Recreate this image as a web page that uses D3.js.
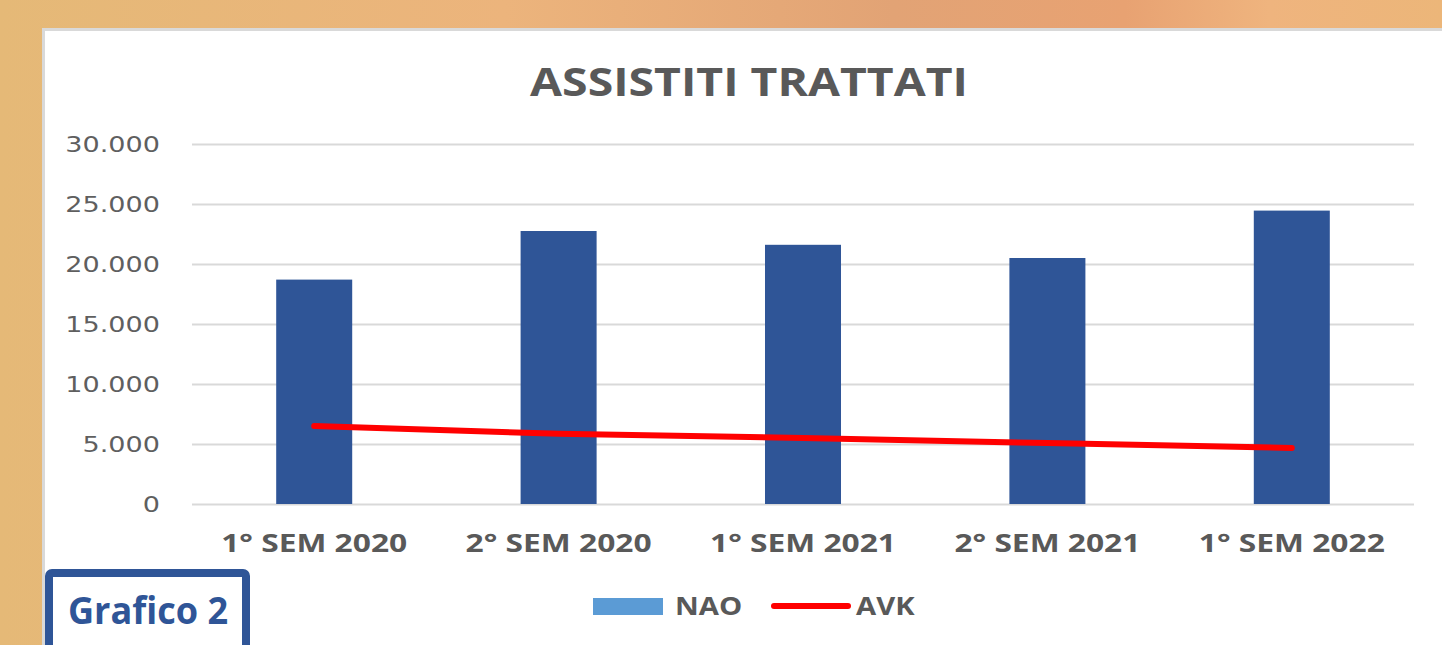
<!DOCTYPE html>
<html>
<head>
<meta charset="utf-8">
<script src="https://cdn.jsdelivr.net/npm/d3@7"></script>
<style>
  html, body { margin: 0; padding: 0; overflow: hidden; }
  svg { display: block; }
</style>
</head>
<body>
<script>
// General constants
const WIDTH = 1442;
const HEIGHT = 645;

// Chart data
const categories = ["1° SEM 2020", "2° SEM 2020", "1° SEM 2021", "2° SEM 2021", "1° SEM 2022"];
const naoValues = [18700, 22750, 21600, 20500, 24450];
const avkValues = [6500, 5850, 5500, 5080, 4670];
const yTicks = [0, 5000, 10000, 15000, 20000, 25000, 30000];
const seriesNames = ["NAO", "AVK"];

const BAR_COLOR = "#2f5597";
const NAO_LEGEND = "#5b9bd5";
const AVK_COLOR = "#ff0000";
const TEXT_COLOR = "#595959";
const GRID_COLOR = "#d9d9d9";
const BOLD_FONT = "'Open Sans', 'Liberation Sans', sans-serif";
const TICK_FONT = "'DejaVu Sans', Verdana, sans-serif";

const itLocale = d3.formatLocale({decimal: ",", thousands: ".", grouping: [3], currency: ["€", ""]});
const fmt = itLocale.format(",");

const svg = d3.select("body")
    .append("svg")
    .attr("width", WIDTH)
    .attr("height", HEIGHT);

/**
 * Orange frame behind the white chart panel
 */
const defs = svg.append("defs");
const grad = defs.append("linearGradient")
    .attr("id", "frame")
    .attr("x1", "0%").attr("x2", "100%")
    .attr("y1", "0%").attr("y2", "0%");
[["0%", "#e5b977"], ["35%", "#ecb47c"], ["62%", "#e2a375"], ["78%", "#e8a272"],
 ["88%", "#efb47e"], ["100%", "#ecb679"]].forEach(s => {
    grad.append("stop").attr("offset", s[0]).attr("stop-color", s[1]);
});

svg.append("rect")
    .attr("width", WIDTH).attr("height", HEIGHT)
    .attr("fill", "url(#frame)");

svg.append("rect")
    .attr("x", 43.5).attr("y", 29.5)
    .attr("width", WIDTH).attr("height", HEIGHT)
    .attr("fill", "#ffffff")
    .attr("stroke", "#d9d9d9")
    .attr("stroke-width", 3);

// Text in the original is stretched horizontally, so scale it a bit
function stretchedText(sel, x, y, sx) {
    return sel.append("text")
        .attr("transform", `translate(${x},${y}) scale(${sx},1)`);
}

/**
 * Scales
 */
const x = d3.scaleBand()
    .domain(categories)
    .range([192, 1414])
    .paddingInner(0.689)
    .paddingOuter(0.3445);

const y = d3.scaleLinear()
    .domain([0, 30000])
    .range([504, 144]);

// Title
stretchedText(svg, 749, 96, 1.16)
    .attr("text-anchor", "middle")
    .attr("font-family", BOLD_FONT)
    .attr("font-weight", "bold")
    .attr("font-size", 40)
    .attr("fill", TEXT_COLOR)
    .text("ASSISTITI TRATTATI");

// Gridlines
const grid = d3.axisLeft(y)
    .tickValues(yTicks)
    .tickSize(-(1414 - 192))
    .tickFormat("");

svg.append("g")
    .attr("transform", "translate(192,0)")
    .call(grid)
    .call(g => g.select(".domain").remove())
    .call(g => g.selectAll("line")
        .attr("stroke", GRID_COLOR)
        .attr("stroke-width", 2));

// Y tick labels
svg.append("g")
    .selectAll("text")
    .data(yTicks)
    .enter()
    .append("text")
    .attr("transform", d => `translate(160,${y(d) + 7.5}) scale(1.23,1)`)
    .attr("text-anchor", "end")
    .attr("font-family", TICK_FONT)
    .attr("font-size", 22)
    .attr("fill", "#5f5f5f")
    .text(d => fmt(d));

// Bars
svg.append("g")
    .selectAll("rect")
    .data(naoValues)
    .enter()
    .append("rect")
    .attr("x", (d, i) => x(categories[i]))
    .attr("y", d => y(d))
    .attr("width", x.bandwidth())
    .attr("height", d => y(0) - y(d))
    .attr("fill", BAR_COLOR);

// AVK line
const line = d3.line()
    .x((d, i) => x(categories[i]) + x.bandwidth() / 2)
    .y(d => y(d));

svg.append("path")
    .datum(avkValues)
    .attr("d", line)
    .attr("fill", "none")
    .attr("stroke", AVK_COLOR)
    .attr("stroke-width", 6)
    .attr("stroke-linecap", "round");

// X axis labels
svg.append("g")
    .selectAll("text")
    .data(categories)
    .enter()
    .append("text")
    .attr("transform", d => `translate(${x(d) + x.bandwidth() / 2},552) scale(1.27,1)`)
    .attr("text-anchor", "middle")
    .attr("font-family", BOLD_FONT)
    .attr("font-weight", "bold")
    .attr("font-size", 25)
    .attr("fill", TEXT_COLOR)
    .text(d => d);

// Legend
const legend = svg.append("g");
legend.append("rect")
    .attr("x", 593).attr("y", 598)
    .attr("width", 70).attr("height", 17)
    .attr("fill", NAO_LEGEND);
stretchedText(legend, 675, 615, 1.17)
    .attr("font-family", BOLD_FONT)
    .attr("font-weight", "bold")
    .attr("font-size", 25)
    .attr("fill", TEXT_COLOR)
    .text(seriesNames[0]);
legend.append("line")
    .attr("x1", 774).attr("x2", 848)
    .attr("y1", 606).attr("y2", 606)
    .attr("stroke", AVK_COLOR)
    .attr("stroke-width", 6)
    .attr("stroke-linecap", "round");
stretchedText(legend, 856, 615, 1.17)
    .attr("font-family", BOLD_FONT)
    .attr("font-weight", "bold")
    .attr("font-size", 25)
    .attr("fill", TEXT_COLOR)
    .text(seriesNames[1]);

// "Grafico 2" tag
svg.append("rect")
    .attr("x", 49).attr("y", 573)
    .attr("width", 197).attr("height", 90)
    .attr("rx", 3)
    .attr("fill", "#ffffff")
    .attr("stroke", BAR_COLOR)
    .attr("stroke-width", 8);
stretchedText(svg, 148, 624, 0.95)
    .attr("text-anchor", "middle")
    .attr("font-family", BOLD_FONT)
    .attr("font-weight", "bold")
    .attr("font-size", 38)
    .attr("fill", BAR_COLOR)
    .text("Grafico 2");
</script>
</body>
</html>
